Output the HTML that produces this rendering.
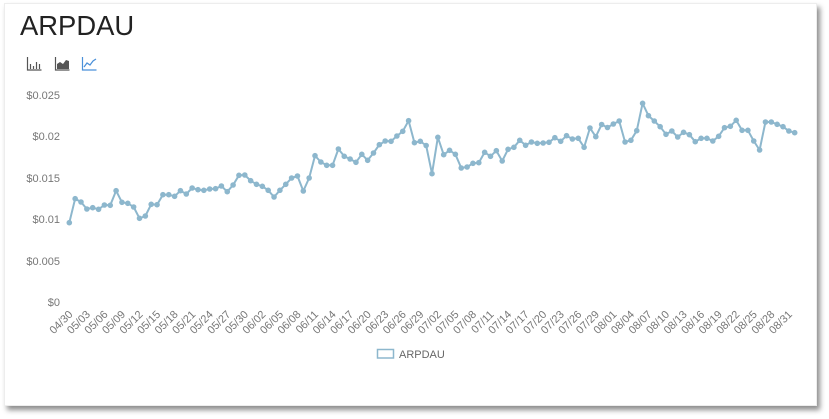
<!DOCTYPE html>
<html><head><meta charset="utf-8"><style>
html,body{margin:0;padding:0;background:#fff;width:829px;height:419px;overflow:hidden;}
.card{position:absolute;left:4px;top:3px;width:811px;height:401px;background:#fff;border:1px solid #ededed;box-shadow:3px 4px 5px rgba(0,0,0,0.45);}
svg{position:absolute;left:0;top:0;}
text{font-family:"Liberation Sans",sans-serif;}
</style></head><body>
<div class="card"></div>
<svg width="829" height="419" viewBox="0 0 829 419">
<defs>
<marker id="dot" markerUnits="userSpaceOnUse" markerWidth="8" markerHeight="8" refX="4" refY="4"><circle cx="4" cy="4" r="2.8" fill="#8db7cd"/></marker>
</defs>
<text x="20" y="35" font-size="27.4" fill="#222">ARPDAU</text>
<g fill="none" stroke="#555" stroke-width="1.2">
<path d="M27.5 57v13h14"/>
<path d="M30.5 69v-5M33.5 69v-3M36.5 69v-7M39.5 69v-5"/>
<path d="M55.5 57v13h14"/>
</g>
<path d="M57 69v-5l3-2 3 2 3-4 3 1v8z" fill="#555"/>
<g fill="none" stroke="#4a90d9" stroke-width="1.2">
<path d="M82.5 57v13h14"/>
<path d="M84 67l3-4 3 2 3-4 3-2"/>
</g>
<g font-size="11" fill="#777" text-anchor="end">
<text x="60" y="99">$0.025</text>
<text x="60" y="140">$0.02</text>
<text x="60" y="182">$0.015</text>
<text x="60" y="223">$0.01</text>
<text x="60" y="265">$0.005</text>
<text x="60" y="306">$0</text>
</g>
<polyline fill="none" stroke="#8db7cd" stroke-width="2" stroke-linejoin="round" marker-start="url(#dot)" marker-mid="url(#dot)" marker-end="url(#dot)" points="69.3,222.7 75.15,198.7 81,202 86.85,209 92.7,207.7 98.55,209.3 104.4,205 110.25,205.3 116.1,190.7 121.95,202.3 127.8,203.3 133.65,207 139.5,218.3 145.35,216 151.2,204.3 157.05,204.7 162.9,194.7 168.75,194.7 174.6,196.3 180.45,190.7 186.3,194 192.15,188 198,189.7 203.85,190.3 209.7,189 215.55,188.7 221.4,186 227.25,191.7 233.1,185 238.95,175.3 244.8,175 250.65,180.7 256.5,184.3 262.35,186.3 268.2,190.3 274.05,197 279.9,190.3 285.75,184.3 291.6,178 297.45,176 303.3,191 309.15,178 315,155.7 320.85,162 326.7,165.3 332.55,165.3 338.4,149 344.25,156.3 350.1,159 355.95,162.3 361.8,154.3 367.65,160.3 373.5,153 379.35,144.7 385.2,141 391.05,141.3 396.9,136 402.75,131.3 408.6,120.7 414.45,142.7 420.3,141.3 426.15,145.5 432,173.7 437.85,137.3 443.7,154.7 449.55,150.3 455.4,154.3 461.25,168 467.1,167 472.95,163.3 478.8,162.7 484.65,152.3 490.5,156.3 496.35,150.7 502.2,161 508.05,149.3 513.9,147.3 519.75,140.3 525.6,145.3 531.45,142 537.3,143.3 543.15,143 549,142.3 554.85,137.7 560.7,141.3 566.55,135.7 572.4,139 578.25,138.3 584.1,147.3 589.95,128 595.8,136.7 601.65,124.5 607.5,127.5 613.35,124 619.2,121 625.05,142 630.9,140.3 636.75,130.7 642.6,103.3 648.45,115.7 654.3,121 660.15,126.7 666,134.3 671.85,131 677.7,137 683.55,132.3 689.4,134.7 695.25,141.7 701.1,138.3 706.95,138.3 712.8,141 718.65,136.3 724.5,127.7 730.35,126.3 736.2,120.3 742.05,130.3 747.9,130.3 753.75,141 759.6,150 765.45,122 771.3,122 777.15,124.3 783,126.7 788.85,131 794.7,132.7"/>
<g font-size="11" fill="#777" text-anchor="end">
<text transform="translate(73.3,315) rotate(-45)">04/30</text>
<text transform="translate(90.85,315) rotate(-45)">05/03</text>
<text transform="translate(108.4,315) rotate(-45)">05/06</text>
<text transform="translate(125.95,315) rotate(-45)">05/09</text>
<text transform="translate(143.5,315) rotate(-45)">05/12</text>
<text transform="translate(161.05,315) rotate(-45)">05/15</text>
<text transform="translate(178.6,315) rotate(-45)">05/18</text>
<text transform="translate(196.15,315) rotate(-45)">05/21</text>
<text transform="translate(213.7,315) rotate(-45)">05/24</text>
<text transform="translate(231.25,315) rotate(-45)">05/27</text>
<text transform="translate(248.8,315) rotate(-45)">05/30</text>
<text transform="translate(266.35,315) rotate(-45)">06/02</text>
<text transform="translate(283.9,315) rotate(-45)">06/05</text>
<text transform="translate(301.45,315) rotate(-45)">06/08</text>
<text transform="translate(319,315) rotate(-45)">06/11</text>
<text transform="translate(336.55,315) rotate(-45)">06/14</text>
<text transform="translate(354.1,315) rotate(-45)">06/17</text>
<text transform="translate(371.65,315) rotate(-45)">06/20</text>
<text transform="translate(389.2,315) rotate(-45)">06/23</text>
<text transform="translate(406.75,315) rotate(-45)">06/26</text>
<text transform="translate(424.3,315) rotate(-45)">06/29</text>
<text transform="translate(441.85,315) rotate(-45)">07/02</text>
<text transform="translate(459.4,315) rotate(-45)">07/05</text>
<text transform="translate(476.95,315) rotate(-45)">07/08</text>
<text transform="translate(494.5,315) rotate(-45)">07/11</text>
<text transform="translate(512.05,315) rotate(-45)">07/14</text>
<text transform="translate(529.6,315) rotate(-45)">07/17</text>
<text transform="translate(547.15,315) rotate(-45)">07/20</text>
<text transform="translate(564.7,315) rotate(-45)">07/23</text>
<text transform="translate(582.25,315) rotate(-45)">07/26</text>
<text transform="translate(599.8,315) rotate(-45)">07/29</text>
<text transform="translate(617.35,315) rotate(-45)">08/01</text>
<text transform="translate(634.9,315) rotate(-45)">08/04</text>
<text transform="translate(652.45,315) rotate(-45)">08/07</text>
<text transform="translate(670,315) rotate(-45)">08/10</text>
<text transform="translate(687.55,315) rotate(-45)">08/13</text>
<text transform="translate(705.1,315) rotate(-45)">08/16</text>
<text transform="translate(722.65,315) rotate(-45)">08/19</text>
<text transform="translate(740.2,315) rotate(-45)">08/22</text>
<text transform="translate(757.75,315) rotate(-45)">08/25</text>
<text transform="translate(775.3,315) rotate(-45)">08/28</text>
<text transform="translate(792.85,315) rotate(-45)">08/31</text>
</g>
<rect x="377.5" y="349.5" width="16" height="8.5" fill="#fff" stroke="#8db7cd" stroke-width="1.5"/>
<text x="399" y="358" font-size="11" fill="#666">ARPDAU</text>
</svg>
</body></html>
